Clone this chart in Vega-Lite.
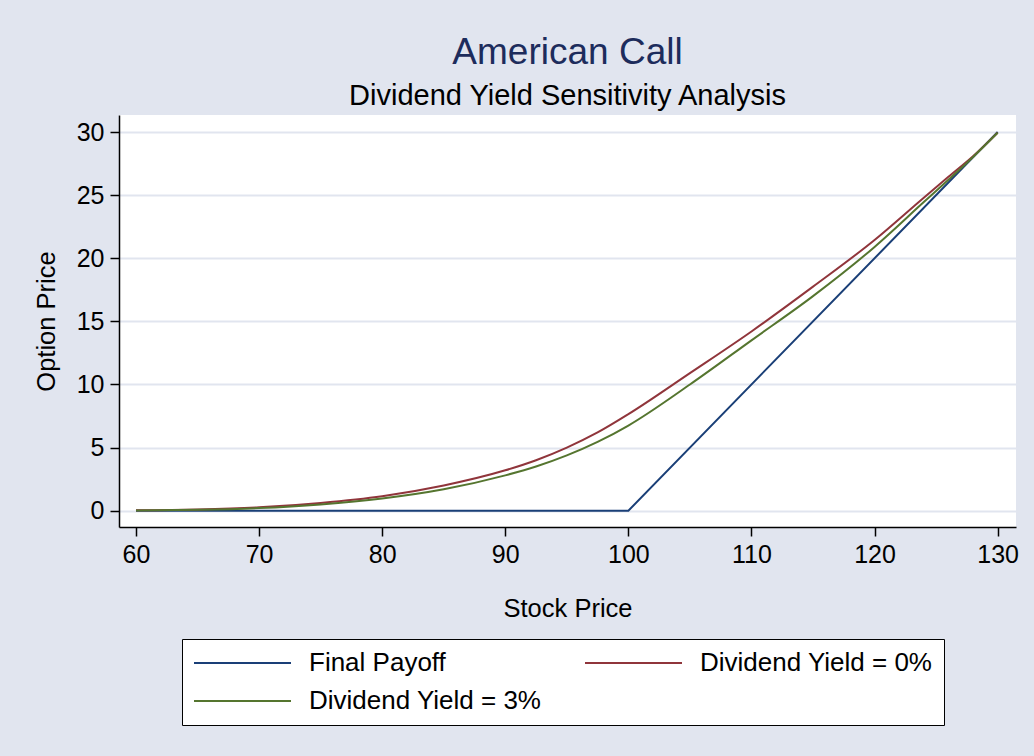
{
  "$schema": "https://vega.github.io/schema/vega-lite/v6.json",
  "width": 897,
  "height": 412,
  "autosize": {"type": "none"},
  "padding": {"left": 119, "top": 115, "right": 18, "bottom": 229},
  "background": "#e1e5ef",
  "title": {
    "text": "American Call",
    "subtitle": "Dividend Yield Sensitivity Analysis",
    "anchor": "middle",
    "font": "Liberation Sans",
    "fontSize": 37,
    "fontWeight": "normal",
    "color": "#1d2c5c",
    "subtitleFont": "Liberation Sans",
    "subtitleFontSize": 29,
    "subtitleColor": "black",
    "subtitlePadding": 10,
    "offset": 3
  },
  "config": {
    "font": "Liberation Sans",
    "view": {"fill": "white", "stroke": null},
    "axis": {
      "domainColor": "black",
      "domainWidth": 1.5,
      "tickColor": "black",
      "tickWidth": 1.5,
      "tickSize": 9,
      "labelFont": "Liberation Sans",
      "labelFontSize": 25,
      "labelColor": "black",
      "labelPadding": 6,
      "labelFlush": false,
      "labelOverlap": false,
      "titleFont": "Liberation Sans",
      "titleFontSize": 25.5,
      "titleFontWeight": "normal",
      "titleColor": "black"
    },
    "legend": {
      "orient": "none",
      "legendX": 63,
      "legendY": 524,
      "direction": "horizontal",
      "columns": 2,
      "symbolType": "stroke",
      "symbolSize": 9409,
      "symbolStrokeWidth": 2,
      "clipHeight": 26,
      "labelFont": "Liberation Sans",
      "labelFontSize": 26,
      "labelColor": "black",
      "labelOffset": 17,
      "labelLimit": 400,
      "columnPadding": 42,
      "rowPadding": 12,
      "padding": 11,
      "strokeColor": "black",
      "fillColor": "white"
    }
  },
  "data": {
    "values": [
      {"S": 60, "series": "Final Payoff", "price": 0},
      {"S": 100, "series": "Final Payoff", "price": 0},
      {"S": 130, "series": "Final Payoff", "price": 30},
      {"S": 60, "series": "Dividend Yield = 0%", "price": 0.03},
      {"S": 65, "series": "Dividend Yield = 0%", "price": 0.1},
      {"S": 70, "series": "Dividend Yield = 0%", "price": 0.27},
      {"S": 75, "series": "Dividend Yield = 0%", "price": 0.62},
      {"S": 80, "series": "Dividend Yield = 0%", "price": 1.15},
      {"S": 85, "series": "Dividend Yield = 0%", "price": 2.0},
      {"S": 90, "series": "Dividend Yield = 0%", "price": 3.2},
      {"S": 92.5, "series": "Dividend Yield = 0%", "price": 4.0},
      {"S": 95, "series": "Dividend Yield = 0%", "price": 5.0},
      {"S": 97.5, "series": "Dividend Yield = 0%", "price": 6.2},
      {"S": 100, "series": "Dividend Yield = 0%", "price": 7.65},
      {"S": 105, "series": "Dividend Yield = 0%", "price": 10.9},
      {"S": 110, "series": "Dividend Yield = 0%", "price": 14.2},
      {"S": 115, "series": "Dividend Yield = 0%", "price": 17.75},
      {"S": 120, "series": "Dividend Yield = 0%", "price": 21.45},
      {"S": 124, "series": "Dividend Yield = 0%", "price": 24.8},
      {"S": 126, "series": "Dividend Yield = 0%", "price": 26.45},
      {"S": 128, "series": "Dividend Yield = 0%", "price": 28.08},
      {"S": 130, "series": "Dividend Yield = 0%", "price": 29.95},
      {"S": 60, "series": "Dividend Yield = 3%", "price": 0.02},
      {"S": 65, "series": "Dividend Yield = 3%", "price": 0.07},
      {"S": 70, "series": "Dividend Yield = 3%", "price": 0.21},
      {"S": 75, "series": "Dividend Yield = 3%", "price": 0.5},
      {"S": 80, "series": "Dividend Yield = 3%", "price": 0.97},
      {"S": 85, "series": "Dividend Yield = 3%", "price": 1.7},
      {"S": 90, "series": "Dividend Yield = 3%", "price": 2.8},
      {"S": 92.5, "series": "Dividend Yield = 3%", "price": 3.5},
      {"S": 95, "series": "Dividend Yield = 3%", "price": 4.38},
      {"S": 97.5, "series": "Dividend Yield = 3%", "price": 5.45},
      {"S": 100, "series": "Dividend Yield = 3%", "price": 6.75},
      {"S": 105, "series": "Dividend Yield = 3%", "price": 10.0},
      {"S": 110, "series": "Dividend Yield = 3%", "price": 13.5},
      {"S": 115, "series": "Dividend Yield = 3%", "price": 17.0},
      {"S": 120, "series": "Dividend Yield = 3%", "price": 20.9},
      {"S": 124, "series": "Dividend Yield = 3%", "price": 24.45},
      {"S": 126, "series": "Dividend Yield = 3%", "price": 26.22},
      {"S": 128, "series": "Dividend Yield = 3%", "price": 28.03},
      {"S": 130, "series": "Dividend Yield = 3%", "price": 29.95}
    ]
  },
  "encoding": {
    "x": {
      "field": "S",
      "type": "quantitative",
      "title": "Stock Price",
      "scale": {"domain": [58.62, 131.49], "nice": false, "zero": false},
      "axis": {"values": [60, 70, 80, 90, 100, 110, 120, 130], "grid": false, "titlePadding": 29}
    },
    "y": {
      "field": "price",
      "type": "quantitative",
      "title": "Option Price",
      "scale": {"domain": [-1.29, 31.35], "nice": false, "zero": false},
      "axis": {"values": [0, 5, 10, 15, 20, 25, 30], "grid": true, "gridColor": "#e1e5ef", "gridWidth": 2, "titlePadding": 17}
    },
    "color": {
      "field": "series",
      "type": "nominal",
      "scale": {
        "domain": ["Final Payoff", "Dividend Yield = 0%", "Dividend Yield = 3%"],
        "range": ["#1a3f77", "#90353b", "#55752f"]
      },
      "legend": {"title": null}
    }
  },
  "layer": [
    {
      "transform": [{"filter": "datum.series === 'Final Payoff'"}],
      "mark": {"type": "line", "strokeWidth": 2, "interpolate": "linear", "clip": true}
    },
    {
      "transform": [{"filter": "datum.series === 'Dividend Yield = 0%'"}],
      "mark": {"type": "line", "strokeWidth": 2, "interpolate": "monotone", "clip": true}
    },
    {
      "transform": [{"filter": "datum.series === 'Dividend Yield = 3%'"}],
      "mark": {"type": "line", "strokeWidth": 2, "interpolate": "monotone", "clip": true}
    }
  ]
}
